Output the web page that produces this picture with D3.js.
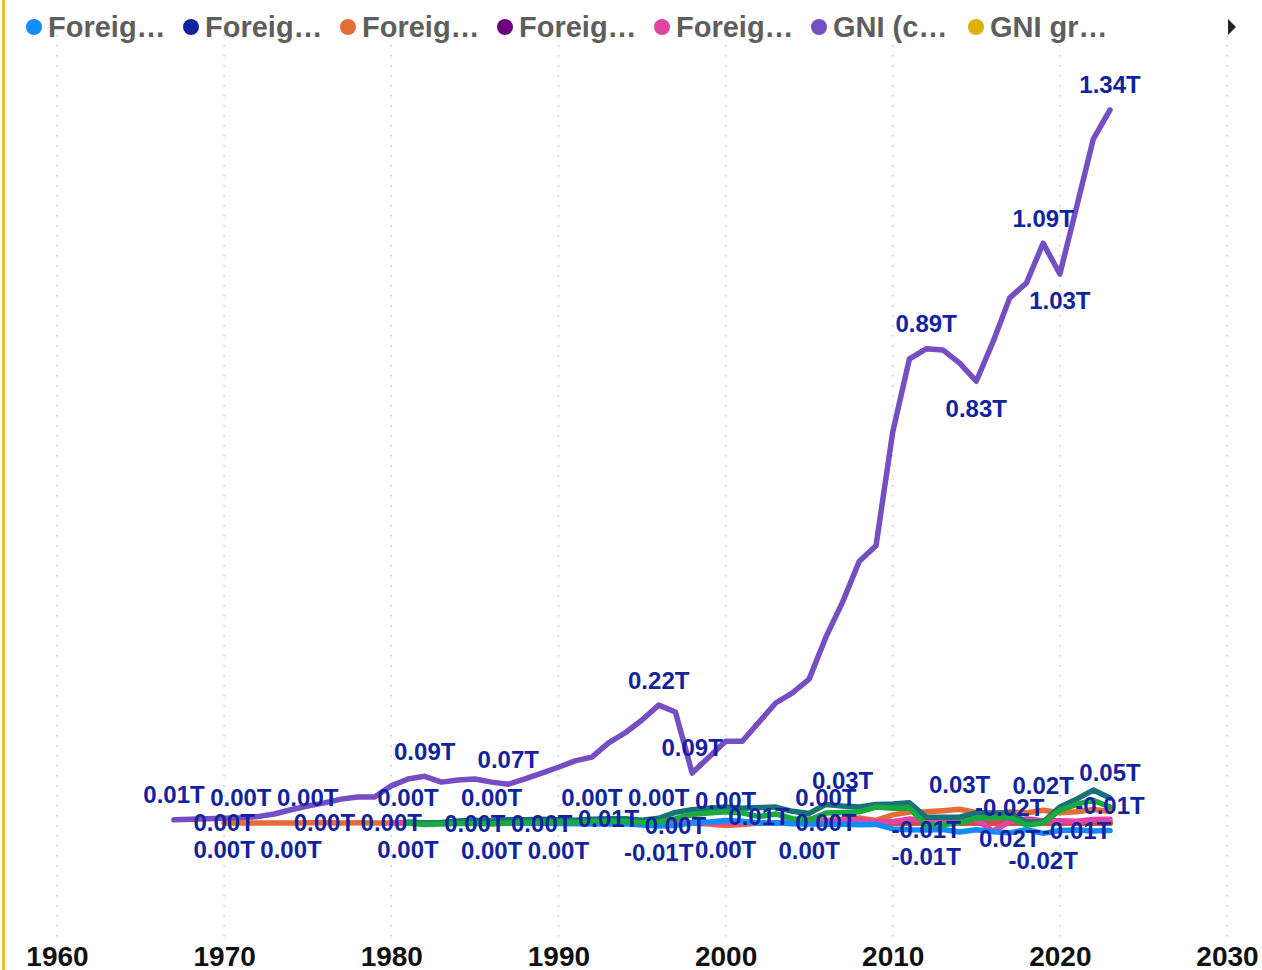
<!DOCTYPE html>
<html>
<head>
<meta charset="utf-8">
<script src="https://cdn.jsdelivr.net/npm/d3@7"></script>
<style>
  body { margin: 0; background: #fff; }
  text { font-family: "Liberation Sans", Arial, sans-serif; font-weight: bold; }
</style>
</head>
<body>
<script>
// series values (billions of US$ or %), each with its first year
var netStart = 1981;
var fdiNet = [-0.13,-0.23,-0.29,-0.22,-0.31,-0.26,-0.39,-0.58,-0.68,-1.09,
  -1.48,-1.78,-1.64,-1.5,-3.75,-5.59,-4.5,0.28,1.94,4.7,
  3.11,0.03,0.61,-1.51,-2.0,-2.17,-2.25,-3.4,-2.63,-11.1,
  -12.9,-13.3,-12.2,-17.0,-12.7,-16.5,-18.5,-12.5,-19.5,-14.1,
  -13.4,-15.2,-14.3];

var inflowsPctStart = 1981;
var fdiInflowsPct = [0.15,0.26,0.36,0.26,0.36,0.32,0.51,0.68,0.74,1.03,
  1.16,1.27,1.27,1.19,2.15,2.72,2.17,-0.25,-1.33,-2.76,
  -1.86,0.07,-0.25,0.74,2.92,1.35,1.6,1.83,0.9,2.03,
  2.3,2.31,2.55,2.82,2.3,0.49,2.02,1.82,2.23,1.8,
  1.83,1.97,1.57];

var inflowsStart = 1970;
var fdiInflows = [0.08,0.14,0.21,0.21,0.07,0.48,0.34,0.24,0.28,0.23,
  0.18,0.13,0.23,0.29,0.22,0.31,0.26,0.39,0.58,0.68,
  1.09,1.48,1.78,2.0,2.11,4.35,6.19,4.68,-0.24,-1.87,
  -4.55,-2.98,0.15,-0.6,1.9,8.3,4.9,6.9,9.3,4.9,
  15.3,20.6,21.2,23.3,26.0,19.8,17.0,21.0,18.9,24.0,
  19.2,21.2,25.4,21.6];

var outflowsPctStart = 1981;
var fdiOutflowsPct = [0,0,0,0,0,0.01,0.02,0.03,0.04,0.01,
  0,0,0.23,0.36,0.29,0.27,0.08,0.04,0.05,0.09,
  0.08,0.09,0,1.34,1.08,0.74,1.07,1.15,0.43,0.35,
  0.86,0.59,0.72,0.8,0.69,-1.31,0.21,0.79,0.41,0.43,
  0.3,0.5,0.53];

var outflowsStart = 1980;
var fdiOutflows = [0,0,0,0,0,0,0,0,0,0,
  0,0,0,0.36,0.61,0.6,0.6,0.18,0.04,0.07,
  0.15,0.13,0.18,0.01,3.41,3.07,2.73,4.68,5.9,2.25,
  2.66,7.71,5.42,6.65,7.08,5.94,-15.0,2.08,8.1,4.45,
  4.45,3.5,6.6,7.3];

var gniStart = 1967;
var gni = [6,7,8,9,10,12,17,25,32,38,
  45,49,49,70,83,88,77,81,83,77,
  73,83,94,105,117,124,151,170,194,222,
  209,94,124,154,154,190,226,245,271,350,
  416,493,522,736,874,893,891,866,832,906,
  989,1017,1092,1034,1160,1288,1343];

var growthStart = 1981;
var gniGrowth = [8.4,1.1,4.0,6.5,2.2,5.7,4.8,5.9,8.6,7.6,
  7.3,7.0,7.4,7.3,8.0,7.4,4.0,-13.7,-0.6,5.1,
  3.3,4.0,4.5,4.8,5.2,5.5,6.2,6.1,4.5,6.4,
  6.0,6.0,5.4,4.9,4.9,5.1,5.1,5.2,5.1,-2.2,
  3.6,5.6,5.0];

var pcGrowthStart = 1981;
var gniPcGrowth = [6.0,-1.1,1.8,4.2,0.0,3.5,2.7,3.8,6.5,5.6,
  5.4,5.2,5.6,5.6,6.3,5.8,2.5,-15.0,-1.9,3.7,
  1.9,2.6,3.1,3.3,3.8,4.1,4.8,4.7,3.1,5.0,
  4.6,4.6,4.1,3.6,3.6,3.9,3.9,4.0,4.0,-3.1,
  2.9,4.8,4.2];

var goodsStart = 1981;
var goodsBalance = [2,0,1,4,5,4,6,6,7,6,
  5,7,8,8,5,9,20,25,28,30,
  28,29,30,22,18,35,32,30,35,36,
  38,11,11,11,19,19,19,2,2,30,
  45,62,47];

var gsStart = 1981;
var goodsServicesBalance = [0,-3,-2,-1,-1,-2,0,1,2,2,
  1,3,3,3,1,2,8,16,19,21,
  19,12,17,8,5,19,20,21,30,28,
  28,-4,-3,0,9,10,11,-4,0,24,
  35,43,30];

var xTicks = [1960, 1970, 1980, 1990, 2000, 2010, 2020, 2030];

// which points carry a data label, and where
var labelSpecs = [
  ["gni",1967,"above"],["gni",1982,"above"],["gni",1987,"above"],["gni",1996,"above"],
  ["gni",1998,"above"],["gni",2012,"above"],["gni",2015,"below"],["gni",2019,"above"],
  ["gni",2020,"below"],["gni",2023,"above"],
  ["inflows",1971,"above"],["inflows",1975,"above"],["inflows",1981,"above"],["inflows",1986,"above"],
  ["inflowsPct",1992,"above"],["inflowsPct",1996,"above"],["inflows",2000,"above"],["outflowsPct",2006,"above"],
  ["goods",2007,"above"],["inflows",2014,"above"],["net",2017,"above"],["inflows",2019,"above"],
  ["goods",2023,"above"],["net",2023,"above"],
  ["inflows",1970,"mid"],["inflows",1976,"mid"],["outflows",1980,"mid"],["net",1985,"mid"],
  ["net",1989,"mid"],["goods",1993,"mid"],["net",1997,"mid"],["gs",2002,"mid"],
  ["growth",2006,"mid"],["net",2012,"mid"],["net",2021,"mid"],
  ["inflows",1970,"below"],["inflows",1974,"below"],["net",1981,"below"],["net",1986,"below"],
  ["net",1990,"below"],["net",1996,"below"],["inflowsPct",2000,"below"],["net",2005,"below"],
  ["net",2012,"below"],["inflows",2017,"below"],["net",2019,"below"]
];

var BN = 1e9;
function toPoints(arr, start, unit) {
  return arr.map(function(v, i) { return {year: start + i, value: v * unit}; });
}

// legend order
var series = [
  {key: "net", name: "Foreign direct investment, net (BoP, current US$)", color: "#118DFF", points: toPoints(fdiNet, netStart, BN)},
  {key: "inflowsPct", name: "Foreign direct investment, net inflows (% of GDP)", color: "#12239E", points: toPoints(fdiInflowsPct, inflowsPctStart, 1)},
  {key: "inflows", name: "Foreign direct investment, net inflows (BoP, current US$)", color: "#E66C37", points: toPoints(fdiInflows, inflowsStart, BN)},
  {key: "outflowsPct", name: "Foreign direct investment, net outflows (% of GDP)", color: "#6B007B", points: toPoints(fdiOutflowsPct, outflowsPctStart, 1)},
  {key: "outflows", name: "Foreign direct investment, net outflows (BoP, current US$)", color: "#E044A7", points: toPoints(fdiOutflows, outflowsStart, BN)},
  {key: "gni", name: "GNI (current US$)", color: "#744EC2", points: toPoints(gni, gniStart, BN)},
  {key: "growth", name: "GNI growth (annual %)", color: "#D9B300", points: toPoints(gniGrowth, growthStart, 1)},
  {key: "pcGrowth", name: "GNI per capita growth (annual %)", color: "#D64550", points: toPoints(gniPcGrowth, pcGrowthStart, 1)},
  {key: "goods", name: "Net trade in goods (BoP, current US$)", color: "#197278", points: toPoints(goodsBalance, goodsStart, BN)},
  {key: "gs", name: "Net trade in goods and services (BoP, current US$)", color: "#1AAB40", points: toPoints(goodsServicesBalance, gsStart, BN)}
];
var byKey = {};
series.forEach(function(s) { byKey[s.key] = s; });

// drawing order, bottom to top
var drawOrder = ["inflowsPct","outflowsPct","growth","pcGrowth","inflows","outflows","net","goods","gs","gni"];

var width = 1262, height = 970;

var svg = d3.select("body").append("svg")
  .attr("width", width)
  .attr("height", height);

// yellow edge on the left
svg.append("rect")
  .attr("x", 2).attr("y", 0)
  .attr("width", 3).attr("height", height)
  .attr("fill", "#E3C12F");

var x = d3.scaleLinear().domain([1960, 2030]).range([57, 1227]);
var y = d3.scaleLinear().domain([-0.2e12, 1.44e12]).range([929.2, 58.4]);

// dotted vertical gridlines
svg.append("g").selectAll("line")
  .data(xTicks)
  .enter().append("line")
  .attr("x1", function(d) { return x(d); })
  .attr("x2", function(d) { return x(d); })
  .attr("y1", 35).attr("y2", 940)
  .attr("stroke", "#C8C6C4")
  .attr("stroke-width", 1.5)
  .attr("stroke-dasharray", "1.5,8.5");

// x axis
var xAxis = svg.append("g")
  .attr("transform", "translate(0,943)")
  .call(d3.axisBottom(x).tickValues(xTicks).tickFormat(d3.format("d")).tickSize(0).tickPadding(3));
xAxis.select(".domain").remove();
xAxis.selectAll("text")
  .style("font-size", "28px")
  .style("font-family", "'Liberation Sans', Arial, sans-serif")
  .style("font-weight", "bold")
  .attr("fill", "#111");

// lines
var line = d3.line()
  .x(function(d) { return x(d.year); })
  .y(function(d) { return y(d.value); });

svg.append("g").selectAll("path")
  .data(drawOrder.map(function(k) { return byKey[k]; }))
  .enter().append("path")
  .attr("d", function(s) { return line(s.points); })
  .attr("fill", "none")
  .attr("stroke", function(s) { return s.color; })
  .attr("stroke-width", 5.5)
  .attr("stroke-linejoin", "round")
  .attr("stroke-linecap", "round");

// data labels
function fmt(v) {
  var s = (v / 1e12).toFixed(2);
  if (s === "-0.00") s = "0.00";
  return s + "T";
}
var offsets = {above: -25, mid: 0, below: 27};

svg.append("g").selectAll("text")
  .data(labelSpecs)
  .enter().append("text")
  .attr("x", function(d) { return x(d[1]); })
  .attr("y", function(d) {
    var p = byKey[d[0]].points.find(function(q) { return q.year === d[1]; });
    return y(p.value) + offsets[d[2]];
  })
  .attr("dy", "0.35em")
  .attr("text-anchor", "middle")
  .attr("fill", "#12239E")
  .style("font-size", "24px")
  .text(function(d) {
    var p = byKey[d[0]].points.find(function(q) { return q.year === d[1]; });
    return fmt(p.value);
  });

// legend (first seven items fit, rest behind the arrow)
var legend = svg.append("g").selectAll("g")
  .data(series.slice(0, 7))
  .enter().append("g")
  .attr("transform", function(d, i) { return "translate(" + (34 + i * 157) + ",27)"; });

legend.append("circle")
  .attr("r", 8)
  .attr("fill", function(d) { return d.color; });

legend.append("text")
  .attr("x", 14)
  .attr("dy", "0.35em")
  .attr("fill", "#605E5C")
  .style("font-size", "29px")
  .text(function(d) { return d.name.slice(0, 6) + "\u2026"; });

svg.append("path")
  .attr("d", "M1228,19 L1236,27 L1228,35 Z")
  .attr("fill", "#252423");
</script>
</body>
</html>
